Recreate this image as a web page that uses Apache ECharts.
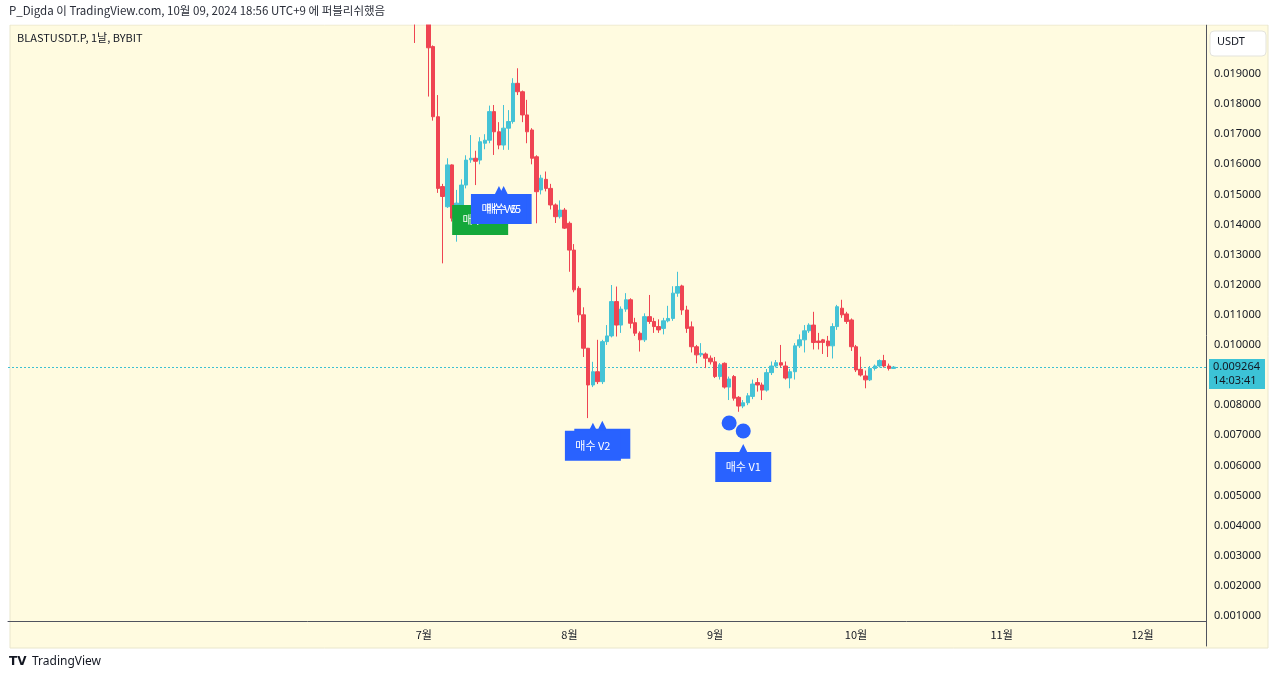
<!DOCTYPE html>
<html><head><meta charset="utf-8">
<script src="https://cdn.jsdelivr.net/npm/echarts@6/dist/echarts.min.js"></script>
<style>html,body{margin:0;padding:0;background:#fff;}#c{width:1280px;height:681px;}</style>
</head><body><div id="c"></div>
<script>
// ---- data ----
const firstCandleDay = '2024-06-29';   // daily candles, consecutive days
const openP = [0.0225,0.0215,0.0222,0.0217,0.01991,0.01758,0.01526,0.01459,0.01598,0.01426,
0.01460,0.01531,0.01615,0.01620,0.01614,0.01670,0.01680,0.01775,0.01708,0.01664,
0.01720,0.01742,0.01869,0.01841,0.01764,0.01714,0.01625,0.01515,0.01550,0.01520,
0.01465,0.01426,0.01448,0.01404,0.01315,0.01188,0.01100,0.00989,0.00867,0.00911,
0.00878,0.01011,0.01030,0.01144,0.01066,0.01119,0.01150,0.01074,0.01039,0.01017,
0.01094,0.01078,0.01061,0.01055,0.01080,0.01088,0.01172,0.01196,0.01116,0.01060,
0.00994,0.00967,0.00970,0.00956,0.00944,0.00895,0.00939,0.00860,0.00895,0.00826,
0.00797,0.00808,0.00829,0.00875,0.00867,0.00850,0.00908,0.00930,0.00941,0.00930,
0.00890,0.00911,0.00997,0.01017,0.01047,0.01066,0.01013,0.01017,0.01013,0.00997,
0.01061,0.01122,0.01103,0.01083,0.00994,0.00919,0.00897,0.00884,0.00922,0.00930,
0.00948,0.00930,0.00922];
const closeP = [0.0215,0.0222,0.0217,0.01987,0.01758,0.01520,0.01493,0.01598,0.01421,0.01471,
0.01531,0.01614,0.01620,0.01610,0.01675,0.01680,0.01775,0.01708,0.01664,0.01720,
0.01742,0.01869,0.01841,0.01764,0.01708,0.01620,0.01509,0.01554,0.01520,0.01465,
0.01426,0.01448,0.01388,0.01315,0.01183,0.01100,0.00989,0.00867,0.00911,0.00878,
0.01011,0.01030,0.01144,0.01066,0.01119,0.01150,0.01072,0.01039,0.01017,0.01094,
0.01078,0.01061,0.01050,0.01080,0.01088,0.01172,0.01194,0.01116,0.01055,0.00994,
0.00967,0.00972,0.00956,0.00944,0.00895,0.00934,0.00860,0.00887,0.00823,0.00797,
0.00808,0.00831,0.00870,0.00867,0.00850,0.00908,0.00930,0.00941,0.00933,0.00890,
0.00911,0.00997,0.01017,0.01047,0.01066,0.01008,0.01008,0.01008,0.00997,0.01061,
0.01127,0.01100,0.01078,0.00994,0.00917,0.00900,0.00884,0.00922,0.00930,0.00948,
0.00930,0.00922,0.009264];
const lowP = [0.02003,0.0209,0.0210,0.01825,0.01745,0.01505,0.01271,0.01455,0.01410,0.01343,
0.01450,0.01520,0.01605,0.01531,0.01600,0.01650,0.01670,0.01631,0.01650,0.01648,
0.01648,0.01735,0.01830,0.01740,0.01670,0.01600,0.01404,0.01500,0.01510,0.01450,
0.01405,0.01420,0.01385,0.01243,0.01175,0.01075,0.00960,0.00757,0.00860,0.00870,
0.00870,0.01000,0.01025,0.01028,0.01040,0.01110,0.01055,0.01030,0.00978,0.01010,
0.01070,0.01040,0.01040,0.01035,0.01075,0.01080,0.01160,0.01100,0.01040,0.00975,
0.00939,0.00960,0.00923,0.00935,0.00890,0.00885,0.00855,0.00817,0.00815,0.00778,
0.00790,0.00800,0.00820,0.00845,0.00817,0.00845,0.00900,0.00925,0.00925,0.00885,
0.00856,0.00885,0.00990,0.00975,0.01040,0.00985,0.00985,0.00970,0.00960,0.00955,
0.01050,0.01090,0.01070,0.00980,0.00910,0.00895,0.00856,0.00880,0.00915,0.00925,
0.00925,0.00915,0.00920];
const highP = [0.0232,0.0228,0.0226,0.0221,0.01995,0.01830,0.01535,0.01620,0.01600,0.01515,
0.01550,0.01630,0.01697,0.01645,0.01690,0.01700,0.01795,0.01797,0.01740,0.01797,
0.01780,0.01886,0.01919,0.01845,0.01814,0.01720,0.01630,0.01565,0.01576,0.01535,
0.01470,0.01480,0.01455,0.01410,0.01335,0.01195,0.01125,0.00990,0.00944,0.01017,
0.01017,0.01066,0.01199,0.01194,0.01128,0.01172,0.01155,0.01090,0.01045,0.01105,
0.01166,0.01090,0.01085,0.01090,0.01130,0.01195,0.01243,0.01200,0.01130,0.01078,
0.01000,0.01006,0.00975,0.00965,0.00960,0.00940,0.00942,0.00895,0.00900,0.00830,
0.00817,0.00840,0.00885,0.00890,0.00875,0.00920,0.00945,0.00950,0.01000,0.00945,
0.00920,0.01006,0.01035,0.01066,0.01072,0.01110,0.01040,0.01020,0.01030,0.01072,
0.01133,0.01150,0.01110,0.01088,0.01000,0.00961,0.00915,0.00930,0.00935,0.00952,
0.00967,0.00938,0.00930];
const axisStart = '2024-04-04', axisEnd = '2024-12-14';
const shownMonths = [7, 8, 9, 10, 11, 12];
const yMin = 0, yMax = 0.020627, yStep = 0.001;
const lastPrice = 0.009264, countdown = '14:03:41';
// signal labels
const sigText  = ['매수 V4', '매수 V5', '매수 V5', '매수 V2', '매수 V2', '매수 V1'];
const sigDate  = ['2024-07-13', '2024-07-18', '2024-07-17', '2024-08-08', '2024-08-06', '2024-09-07'];
const sigPrice = [0.014914, 0.01528, 0.01528, 0.007484, 0.007417, 0.00671];
const sigColor = ['#14a83b', '#2962ff', '#2962ff', '#2962ff', '#2962ff', '#2962ff'];
const sigBack  = [true, false, false, true, false, false];
const dotDate  = ['2024-09-04', '2024-09-07'];
const dotPrice = [0.007407, 0.007141];

// ---- helpers ----
function addDays(s, n) {
  const d = new Date(s + 'T00:00:00Z'); d.setUTCDate(d.getUTCDate() + n);
  return d.toISOString().slice(0, 10);
}
const axisDates = [];
for (let s = axisStart; s <= axisEnd; s = addDays(s, 1)) axisDates.push(s);
const candles = openP.map((o, i) => [addDays(firstCandleDay, i), o, closeP[i], lowP[i], highP[i]]);

const FONT = '"Noto Sans", "Noto Sans CJK KR", sans-serif';
const KFONT = '"Noto Sans CJK KR", "Noto Sans", sans-serif';
const pinPath = 'path://M0,8 L24,8 L28,0 L32,8 L56,8 L56,38 L0,38 Z';
function pin(i) {
  return {
    name: sigText[i], coord: [sigDate[i], sigPrice[i]],
    symbol: pinPath, symbolSize: [56, 38], symbolOffset: [0, 19], symbolKeepAspect: false,
    itemStyle: { color: sigColor[i] },
    label: { show: true, position: 'inside', formatter: '{b}', color: '#fff', fontSize: 11, fontFamily: KFONT, offset: [0, 4] }
  };
}
const frontPins = [], backPins = [];
sigText.forEach((t, i) => (sigBack[i] ? backPins : frontPins).push(pin(i)));
const dots = dotDate.map((d, i) => ({
  coord: [d, dotPrice[i]], symbol: 'circle', symbolSize: 15,
  itemStyle: { color: '#2962ff' }, label: { show: false }
}));

const chart = echarts.init(document.getElementById('c'), null, { renderer: 'canvas' });
chart.setOption({
  animation: false,
  backgroundColor: '#ffffff',
  graphic: [
    { type: 'rect', z: -10, shape: { x: 10, y: 25, width: 1258, height: 623 },
      style: { fill: '#fffbe0', stroke: '#e9e6cc', lineWidth: 1 } },
    { type: 'rect', z: 100, shape: { x: 0, y: 0, width: 1280, height: 24.5 }, style: { fill: '#ffffff' } },
    { type: 'text', z: 101, left: 9, top: 5, style: { text: 'P_Digda 이 TradingView.com, 10월 09, 2024 18:56 UTC+9 에 퍼블리쉬했음', fill: '#2a2e39', font: '11.5px ' + KFONT } },
    { type: 'text', left: 17, top: 32, style: { text: 'BLASTUSDT.P, 1날, BYBIT', fill: '#131722', font: '11px ' + KFONT } },
    { type: 'rect', z: 50, shape: { x: 1210, y: 31, width: 56, height: 25, r: 4 },
      style: { fill: '#ffffff', stroke: '#e3e3dc', lineWidth: 1 } },
    { type: 'text', z: 51, left: 1217, top: 36, style: { text: 'USDT', fill: '#131722', font: '11px ' + FONT } },
    { type: 'text', left: 9, top: 656, style: { text: 'TV', fill: '#131722', font: 'bold 12px "DejaVu Sans"' } },
    { type: 'text', left: 32, top: 656, style: { text: 'TradingView', fill: '#131722', font: '12px ' + FONT } }
  ],
  grid: { left: 8, right: 74, top: 25, bottom: 35 },
  xAxis: {
    type: 'category', data: axisDates, boundaryGap: true, offset: -25,
    axisLine: { show: true, lineStyle: { color: '#50535e', width: 1 } },
    axisTick: { show: false }, splitLine: { show: false },
    axisLabel: {
      margin: 8, color: '#131722', fontSize: 11, fontFamily: KFONT,
      interval: (idx, v) => v.slice(8) === '01' && shownMonths.includes(+v.slice(5, 7)),
      formatter: v => (+v.slice(5, 7)) + '월'
    }
  },
  yAxis: {
    type: 'value', position: 'right', min: yMin, max: yMax, interval: yStep, scale: false,
    axisLine: { show: true, lineStyle: { color: '#50535e', width: 1 } },
    axisTick: { show: false }, splitLine: { show: false },
    axisLabel: {
      margin: 8, color: '#131722', fontSize: 11, fontFamily: FONT,
      formatter: v => (v < 0.0005 || v > 0.0195) ? '' : v.toFixed(6)
    }
  },
  series: [
    { type: 'scatter', data: [], z: 1, silent: true, itemStyle: { color: '#3fb9ca' },
      markPoint: { silent: true, z: 4, data: backPins },
      markLine: {
        silent: true, symbol: 'none', animation: false, precision: 6, z: 2,
        lineStyle: { type: [2, 2], color: '#3dc0d2', width: 1, opacity: 1 },
        label: { show: true, position: 'end', distance: 3, formatter: lastPrice.toFixed(6) + '\n' + countdown,
          backgroundColor: '#3cc3d6', color: '#131722', fontSize: 11, fontFamily: FONT, lineHeight: 14,
          padding: [1, 5, 1, 4], offset: [0, 7] },
        data: [{ yAxis: lastPrice, lineStyle: { color: '#3dc0d2' } }]
      }
    },
    { type: 'candlestick', z: 3, data: candles, encode: { x: 0, y: [1, 2, 3, 4] },
      barWidth: 4, clip: true,
      itemStyle: { color: '#45c3d6', color0: '#ef4452', borderColor: '#45c3d6', borderColor0: '#ef4452', borderWidth: 1 },
      markPoint: { silent: true, z: 6, data: frontPins.concat(dots) }
    }
  ]
});
</script></body></html>
